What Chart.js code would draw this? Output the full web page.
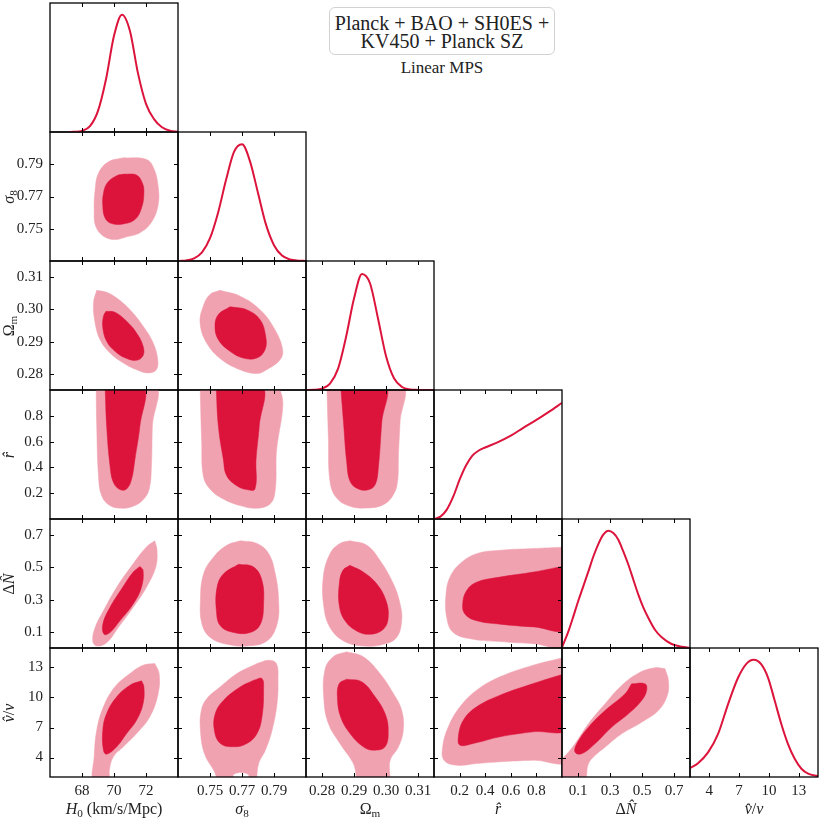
<!DOCTYPE html>
<html>
<head>
<meta charset="utf-8">
<script src="https://cdn.jsdelivr.net/npm/chart.js@4.4.0/dist/chart.umd.min.js"></script>
<style>
body { margin: 0; background: #fff; }
#wrap { position: relative; width: 822px; height: 822px; overflow: hidden; font-family: "Liberation Serif", serif; color: #222; }
canvas { position: absolute; }
.xt { position: absolute; top: 798px; width: 128px; text-align: center; font-size: 16px; line-height: 22px; white-space: nowrap; }
.yt { position: absolute; left: -56px; width: 129px; height: 22px; text-align: center; font-size: 16px; line-height: 22px; transform: rotate(-90deg); white-space: nowrap; }
sub { font-size: 70%; vertical-align: -0.3em; line-height: 0; }
#leg { position: absolute; left: 329px; top: 7px; width: 226px; height: 48px; box-sizing: border-box; padding-top: 6px; border: 1px solid #d2d2d2; border-radius: 6px; text-align: center; font-size: 20px; line-height: 18px; }
#sub { position: absolute; left: 329px; top: 58px; width: 226px; text-align: center; font-size: 17px; line-height: 20px; }
</style>
</head>
<body>
<div id="wrap">
  <div id="leg">Planck + BAO + SH0ES +<br>KV450 + Planck SZ</div>
  <div id="sub">Linear MPS</div>
</div>
<script>
// axis ranges and ticks, one entry per parameter: H0, sigma8, Omega_m, r, dN, v
const axisMin = [66, 0.73, 0.275, 0, 0, 2.05]
const axisMax = [74, 0.81, 0.315, 1, 0.8, 14.95]
const tickVals = [[68, 70, 72], [0.75, 0.77, 0.79], [0.28, 0.29, 0.30, 0.31], [0.2, 0.4, 0.6, 0.8], [0.1, 0.3, 0.5, 0.7], [4, 7, 10, 13]]
const tickDec = [0, 2, 2, 1, 1, 0]
const xTitles = ['<i>H</i><sub>0</sub> (km/s/Mpc)', '<i>σ</i><sub>8</sub>', 'Ω<sub>m</sub>', '<i>r̂</i>', 'Δ<i>N̂</i>', '<i>v̂</i>/<i>v</i>']

// 1D marginals
const h0X = [67.2, 67.5, 68, 68.5, 69, 69.5, 70, 70.5, 71, 71.5, 72, 72.5, 73, 73.5, 74]
const h0Y = [0, 0.002, 0.01, 0.05, 0.18, 0.45, 0.82, 1.0, 0.86, 0.5, 0.24, 0.11, 0.04, 0.01, 0.002]
const s8X = [0.731, 0.735, 0.74, 0.745, 0.75, 0.755, 0.76, 0.765, 0.77, 0.775, 0.78, 0.785, 0.79, 0.795, 0.80, 0.805, 0.81]
const s8Y = [0.001, 0.005, 0.022, 0.073, 0.194, 0.41, 0.69, 0.93, 0.995, 0.85, 0.58, 0.31, 0.135, 0.046, 0.013, 0.003, 0.001]
const omX = [0.275, 0.2775, 0.28, 0.2825, 0.285, 0.2875, 0.29, 0.2925, 0.295, 0.2975, 0.30, 0.3025, 0.305, 0.3075, 0.31, 0.3125, 0.315]
const omY = [0, 0.002, 0.012, 0.055, 0.18, 0.45, 0.78, 0.99, 0.91, 0.61, 0.29, 0.10, 0.026, 0.005, 0.001, 0, 0]
const rX = [0, 0.05, 0.1, 0.15, 0.2, 0.25, 0.3, 0.35, 0.4, 0.5, 0.6, 0.7, 0.8, 0.9, 1.0]
const rY = [0, 0.02, 0.08, 0.19, 0.335, 0.456, 0.54, 0.584, 0.61, 0.655, 0.71, 0.78, 0.845, 0.916, 0.99]
const nX = [0.002, 0.04, 0.071, 0.102, 0.133, 0.165, 0.196, 0.227, 0.258, 0.29, 0.321, 0.352, 0.383, 0.415, 0.446, 0.477, 0.508, 0.54, 0.581, 0.623, 0.685, 0.748, 0.8]
const nY = [0.012, 0.142, 0.27, 0.403, 0.526, 0.653, 0.78, 0.886, 0.966, 1.0, 0.98, 0.923, 0.824, 0.71, 0.582, 0.455, 0.347, 0.256, 0.156, 0.091, 0.034, 0.011, 0.003]
const vX = [2.05, 2.86, 3.87, 4.88, 5.88, 6.89, 7.73, 8.47, 9.24, 9.92, 10.59, 11.26, 11.93, 12.60, 13.28, 13.95, 14.95]
const vY = [0.076, 0.118, 0.21, 0.367, 0.62, 0.846, 0.965, 1.0, 0.96, 0.846, 0.65, 0.45, 0.28, 0.155, 0.07, 0.028, 0.008]

// 2D contours (68% inner, 95% outer), [x, y]
const h0S8Outer = [[70.58,0.794],[72.03,0.793],[72.49,0.7874],[72.76,0.7762],[72.76,0.7649],[72.34,0.754],[71.62,0.7475],[70.79,0.745],[70.06,0.7433],[69.34,0.7454],[68.86,0.7515],[68.76,0.7618],[68.82,0.7741],[69.03,0.7844],[69.65,0.7915]]
const h0S8Inner = [[70.68,0.7839],[71.41,0.7833],[71.78,0.7782],[71.87,0.772],[71.72,0.7628],[71.31,0.7557],[70.58,0.753],[69.85,0.7532],[69.44,0.7567],[69.30,0.7639],[69.34,0.772],[69.59,0.7786],[70.17,0.7829]]
const h0OmOuter = [[68.92,0.3059],[69.54,0.3053],[70.17,0.3035],[71.0,0.2999],[71.82,0.2948],[72.40,0.2901],[72.72,0.2849],[72.65,0.2813],[72.13,0.2803],[71.41,0.2813],[70.58,0.2834],[69.75,0.2865],[69.13,0.2906],[68.82,0.2958],[68.72,0.302]]
const h0OmInner = [[69.50,0.2994],[70.06,0.2991],[70.79,0.2963],[71.41,0.2927],[71.82,0.2886],[71.82,0.2857],[71.41,0.2842],[70.68,0.2850],[70.06,0.2870],[69.54,0.2901],[69.30,0.2943],[69.34,0.2979]]
const s8OmOuter = [[0.7563,0.3059],[0.7688,0.3041],[0.7813,0.2999],[0.7906,0.2937],[0.7954,0.2875],[0.7938,0.2844],[0.7854,0.2813],[0.7792,0.2801],[0.7688,0.2813],[0.7573,0.2844],[0.7479,0.2896],[0.7438,0.2958],[0.7458,0.301],[0.75,0.3046]]
const s8OmInner = [[0.7625,0.3008],[0.7729,0.2999],[0.7813,0.2968],[0.7848,0.2917],[0.7844,0.2875],[0.7792,0.2849],[0.7708,0.2849],[0.7625,0.287],[0.7552,0.2906],[0.7531,0.2948],[0.7552,0.2984]]
const h0ROuter = [[68.88,1.04],[68.92,0.722],[69.03,0.336],[69.23,0.181],[69.75,0.104],[70.48,0.083],[71.20,0.099],[71.82,0.15],[72.20,0.233],[72.34,0.413],[72.40,0.722],[72.55,1.04]]
const h0RInner = [[69.44,1.04],[69.54,0.722],[69.75,0.413],[69.96,0.284],[70.37,0.228],[70.79,0.233],[71.10,0.31],[71.31,0.464],[71.62,0.722],[71.82,1.04]]
const s8ROuter = [[0.7438,1.04],[0.7448,0.593],[0.7458,0.336],[0.75,0.233],[0.7583,0.155],[0.7688,0.104],[0.7792,0.083],[0.7875,0.117],[0.7906,0.207],[0.7913,0.464],[0.7913,1.04]]
const s8RInner = [[0.7538,1.04],[0.7552,0.722],[0.7583,0.464],[0.7604,0.336],[0.7667,0.258],[0.7729,0.228],[0.7781,0.233],[0.7788,0.464],[0.7808,0.722],[0.7823,1.04]]
const omROuter = [[0.2815,1.04],[0.2820,0.626],[0.2825,0.291],[0.2846,0.162],[0.2888,0.098],[0.294,0.085],[0.2992,0.111],[0.3023,0.188],[0.3036,0.291],[0.3039,0.497],[0.3044,0.755],[0.3049,1.04]]
const omRInner = [[0.2858,1.04],[0.2867,0.755],[0.2877,0.446],[0.2888,0.291],[0.2914,0.232],[0.2945,0.227],[0.2966,0.265],[0.2976,0.394],[0.2987,0.755],[0.2997,1.04]]
const h0NOuter = [[72.55,0.665],[72.69,0.606],[72.61,0.502],[72.03,0.377],[71.20,0.252],[70.27,0.127],[69.54,0.033],[68.92,0.0125],[68.67,0.044],[68.82,0.127],[69.34,0.231],[70.17,0.377],[71.20,0.523],[72.03,0.627]]
const h0NInner = [[71.62,0.506],[71.82,0.481],[71.72,0.377],[71.2,0.273],[70.37,0.169],[69.75,0.096],[69.38,0.085],[69.3,0.148],[69.75,0.252],[70.48,0.367],[71.2,0.471]]
const s8NOuter = [[0.769,0.665],[0.7794,0.648],[0.7867,0.585],[0.7908,0.46],[0.7929,0.294],[0.7919,0.148],[0.7856,0.044],[0.7731,0.0125],[0.7606,0.023],[0.7502,0.065],[0.745,0.148],[0.744,0.294],[0.746,0.46],[0.7523,0.565],[0.7606,0.6375]]
const s8NInner = [[0.7679,0.519],[0.7773,0.502],[0.7825,0.419],[0.7835,0.273],[0.7815,0.148],[0.7752,0.096],[0.7648,0.096],[0.7565,0.1375],[0.754,0.231],[0.7544,0.377],[0.7585,0.46]]
const omNOuter = [[0.28875,0.665],[0.294,0.6375],[0.2981,0.544],[0.3023,0.398],[0.3044,0.273],[0.3049,0.169],[0.3033,0.065],[0.2992,0.023],[0.2929,0.0125],[0.2867,0.044],[0.2825,0.127],[0.2806,0.252],[0.2804,0.44],[0.2825,0.585],[0.2856,0.648]]
const omNInner = [[0.28875,0.5125],[0.2929,0.471],[0.2971,0.398],[0.30,0.294],[0.3007,0.19],[0.2992,0.117],[0.295,0.085],[0.2908,0.106],[0.2872,0.169],[0.2854,0.2625],[0.2854,0.398],[0.2865,0.481]]
const rNOuter = [[1.04,0.627],[0.776,0.617],[0.516,0.606],[0.333,0.585],[0.203,0.523],[0.125,0.44],[0.094,0.335],[0.099,0.19],[0.151,0.096],[0.307,0.054],[0.516,0.04],[0.776,0.027],[1.04,0.019]]
const rNInner = [[1.04,0.5125],[0.776,0.471],[0.516,0.44],[0.333,0.408],[0.255,0.356],[0.224,0.273],[0.242,0.21],[0.333,0.169],[0.516,0.148],[0.776,0.131],[1.04,0.123]]
const h0VOuter = [[72.55,13.4],[72.82,12.4],[72.76,10.4],[72.24,8.07],[71.41,6.4],[70.58,5.07],[69.96,4.07],[69.71,2.73],[69.65,1.5],[68.72,1.5],[68.76,4.07],[68.92,6.73],[69.34,9.07],[70.06,11.07],[71.0,12.4],[71.82,13.23]]
const h0VInner = [[71.72,11.67],[71.87,11.07],[71.82,9.4],[71.41,7.73],[70.79,6.4],[70.17,5.07],[69.54,4.33],[69.34,4.73],[69.30,6.73],[69.54,8.4],[70.17,10.07],[71.0,11.23]]
const s8VOuter = [[0.7794,13.4],[0.7867,13.73],[0.7915,13.4],[0.7925,11.73],[0.7919,9.4],[0.7888,6.73],[0.7846,4.73],[0.7804,3.4],[0.7783,1.5],[0.7752,1.5],[0.7735,2.35],[0.7652,2.35],[0.7632,1.5],[0.7565,1.5],[0.7523,2.73],[0.7465,4.4],[0.744,6.73],[0.7446,8.73],[0.7481,9.9],[0.7565,11.07],[0.7669,12.4]]
const s8VInner = [[0.7773,11.73],[0.7825,11.9],[0.7835,10.73],[0.7825,8.07],[0.7794,6.4],[0.7731,5.4],[0.7648,5.07],[0.7565,5.4],[0.7527,6.73],[0.7533,8.4],[0.7585,9.73],[0.769,11.07]]
const omVOuter = [[0.2877,14.57],[0.2929,14.07],[0.2981,12.4],[0.3023,10.4],[0.3049,8.73],[0.3054,6.73],[0.3039,5.07],[0.3013,3.73],[0.3004,1.5],[0.2919,1.5],[0.2898,3.4],[0.2856,5.4],[0.282,7.4],[0.2806,9.73],[0.2809,12.73],[0.2835,14.07]]
const omVInner = [[0.2877,11.83],[0.2924,11.57],[0.2966,10.07],[0.2997,8.4],[0.3007,6.73],[0.2997,5.07],[0.296,4.73],[0.2929,5.07],[0.28875,6.4],[0.2858,8.07],[0.2848,10.07],[0.2854,11.4]]
const rVOuter = [[1.04,14.07],[0.776,13.23],[0.516,12.07],[0.333,10.73],[0.203,9.07],[0.112,7.07],[0.068,5.07],[0.078,3.73],[0.177,3.23],[0.333,3.4],[0.516,3.57],[0.776,3.73],[1.04,3.8]]
const rVInner = [[1.04,12.47],[0.776,11.4],[0.516,10.23],[0.333,9.07],[0.229,7.73],[0.19,6.07],[0.203,5.23],[0.307,5.4],[0.516,6.07],[0.776,6.57],[1.04,6.9]]
const nVOuter = [[0.644,12.87],[0.665,11.7],[0.658,10.2],[0.602,8.7],[0.498,7.53],[0.373,6.37],[0.269,5.03],[0.206,4.2],[0.165,3.37],[0.133,1.5],[-0.03,1.5],[-0.03,3.2],[0.04,4.53],[0.081,5.37],[0.165,7.37],[0.269,9.37],[0.373,11.2],[0.477,12.43],[0.581,12.97]]
const nVInner = [[0.435,11.37],[0.519,11.37],[0.529,10.7],[0.498,9.7],[0.415,8.37],[0.31,7.03],[0.206,5.37],[0.123,4.37],[0.081,4.53],[0.092,5.37],[0.165,7.03],[0.269,8.7],[0.394,10.37]]

const contours = [
  [1, 0, h0S8Outer, h0S8Inner],
  [2, 0, h0OmOuter, h0OmInner],
  [2, 1, s8OmOuter, s8OmInner],
  [3, 0, h0ROuter, h0RInner],
  [3, 1, s8ROuter, s8RInner],
  [3, 2, omROuter, omRInner],
  [4, 0, h0NOuter, h0NInner],
  [4, 1, s8NOuter, s8NInner],
  [4, 2, omNOuter, omNInner],
  [4, 3, rNOuter, rNInner],
  [5, 0, h0VOuter, h0VInner],
  [5, 1, s8VOuter, s8VInner],
  [5, 2, omVOuter, omVInner],
  [5, 3, rVOuter, rVInner],
  [5, 4, nVOuter, nVInner]
]
const marginals = [[h0X, h0Y], [s8X, s8Y], [omX, omY], [rX, rY], [nX, nY], [vX, vY]]

const DARK = 'rgb(220,20,60)'
const LIGHT = 'rgb(241,162,177)'
const PAD = 2, AXW = 48, AXH = 22, PW = 128, PH = 129, X0 = 50, Y0 = 3
const wrap = document.getElementById('wrap')

// inward ticks on every side plus the black frame
const framePlugin = {
  id: 'frame',
  afterDraw(chart, args, opts) {
    const { ctx, chartArea: a, scales } = chart
    ctx.save()
    ctx.strokeStyle = '#000'
    ctx.lineWidth = 1
    ctx.beginPath()
    opts.xt.forEach(v => {
      const px = Math.round(scales.x.getPixelForValue(v)) + 0.5
      ctx.moveTo(px, a.bottom); ctx.lineTo(px, a.bottom - 4)
      ctx.moveTo(px, a.top); ctx.lineTo(px, a.top + 4)
    })
    opts.yt.forEach(v => {
      const py = Math.round(scales.y.getPixelForValue(v)) + 0.5
      ctx.moveTo(a.left, py); ctx.lineTo(a.left + 4, py)
      ctx.moveTo(a.right, py); ctx.lineTo(a.right - 4, py)
    })
    ctx.stroke()
    ctx.lineWidth = 1.3
    ctx.strokeRect(a.left, a.top, a.right - a.left, a.bottom - a.top)
    ctx.restore()
  }
}

const pts = arr => {
  const p = arr.map(q => ({ x: q[0], y: q[1] }))
  p.push({ x: arr[0][0], y: arr[0][1] })
  return p
}

function axis(k, show, fixed, horizontal, diag) {
  return {
    type: 'linear',
    min: diag ? 0 : axisMin[k],
    max: diag ? 1.1 : axisMax[k],
    display: show,
    afterFit: s => {
      if (!show) return
      if (horizontal) {
        s.height = fixed
        s.paddingLeft = 0
        s.paddingRight = 0
      } else {
        s.width = fixed
        s.paddingTop = 0
        s.paddingBottom = 0
      }
    },
    afterBuildTicks: s => { s.ticks = diag ? [] : tickVals[k].map(v => ({ value: v })) },
    grid: { display: false, drawTicks: false },
    border: { display: false },
    ticks: {
      autoSkip: false, maxRotation: 0, padding: horizontal ? 5 : 7,
      color: '#222', font: { family: 'Liberation Serif', size: 15 },
      callback: v => Number(v).toFixed(tickDec[k])
    }
  }
}

function makePanel(i, j, datasets) {
  const diag = i === j
  const leftAxis = j === 0 && !diag
  const bottomAxis = i === 5
  const cv = document.createElement('canvas')
  const w = PAD * 2 + PW + (leftAxis ? AXW : 0)
  const h = PAD * 2 + PH + (bottomAxis ? AXH : 0)
  cv.width = w
  cv.height = h
  cv.style.width = w + 'px'
  cv.style.height = h + 'px'
  cv.style.left = (X0 + PW * j - PAD - (leftAxis ? AXW : 0)) + 'px'
  cv.style.top = (Y0 + PH * i - PAD) + 'px'
  wrap.appendChild(cv)
  new Chart(cv, {
    type: 'scatter',
    data: { datasets },
    options: {
      responsive: false,
      animation: false,
      events: [],
      layout: { padding: PAD },
      plugins: {
        legend: { display: false },
        tooltip: { enabled: false },
        frame: { xt: tickVals[j], yt: diag ? [] : tickVals[i] }
      },
      scales: {
        x: axis(j, bottomAxis, AXH, true, false),
        y: axis(i, leftAxis, AXW, false, diag)
      }
    },
    plugins: [framePlugin]
  })
}

contours.forEach(([i, j, outer, inner]) => {
  makePanel(i, j, [
    { data: pts(inner), showLine: true, fill: 'shape', backgroundColor: DARK, borderColor: DARK, borderWidth: 0.5, pointRadius: 0, tension: 0.4, order: 0 },
    { data: pts(outer), showLine: true, fill: 'shape', backgroundColor: LIGHT, borderColor: LIGHT, borderWidth: 0.5, pointRadius: 0, tension: 0.4, order: 1 }
  ])
})

marginals.forEach(([xs, ys], k) => {
  makePanel(k, k, [
    { data: xs.map((x, n) => ({ x, y: ys[n] })), showLine: true, fill: false, borderColor: DARK, borderWidth: 2, pointRadius: 0, cubicInterpolationMode: 'monotone' }
  ])
})

// axis titles
xTitles.forEach((t, k) => {
  const d = document.createElement('div')
  d.className = 'xt'
  d.style.left = (X0 + PW * k) + 'px'
  d.innerHTML = t
  wrap.appendChild(d)
  if (k > 0) {
    const y = document.createElement('div')
    y.className = 'yt'
    y.style.top = (Y0 + PH * k + PH / 2 - 11) + 'px'
    y.innerHTML = t
    wrap.appendChild(y)
  }
})
</script>
</body>
</html>
